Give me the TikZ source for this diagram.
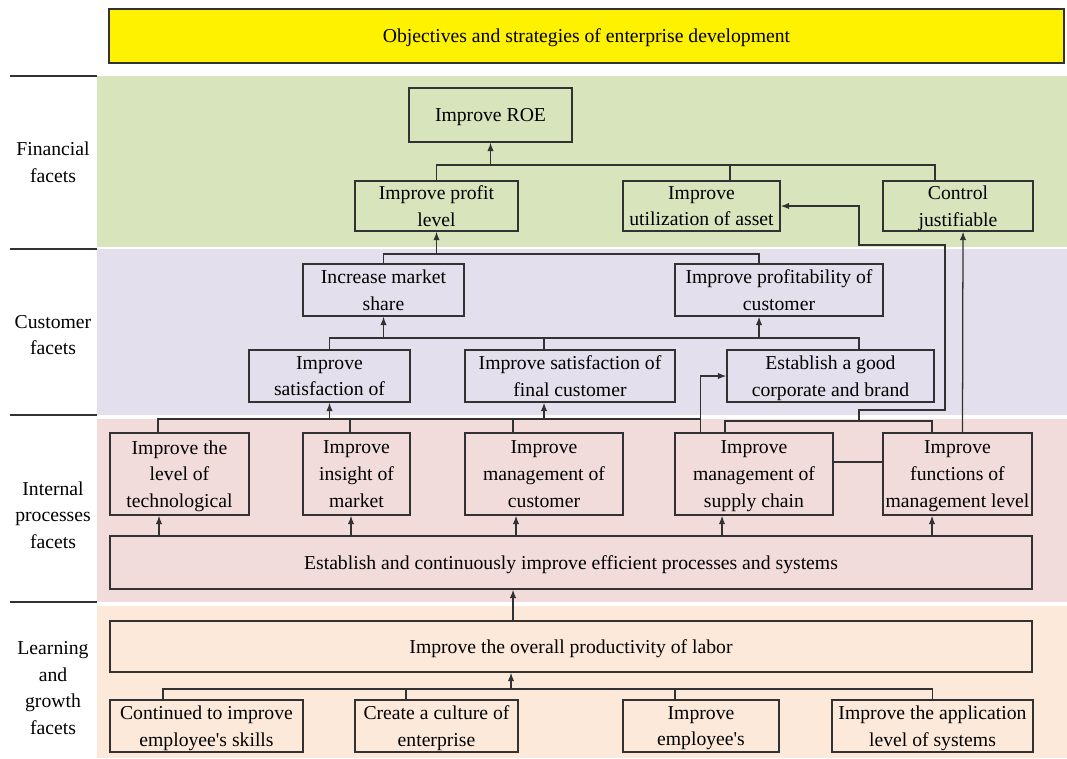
\documentclass[tikz,border=0pt]{standalone}
\usepackage{fontspec}
\setmainfont{Liberation Serif}
\usepackage{tikz}
\usetikzlibrary{arrows.meta}
\definecolor{finband}{RGB}{216,228,188}
\definecolor{custband}{RGB}{228,223,236}
\definecolor{intband}{RGB}{242,220,219}
\definecolor{learnband}{RGB}{253,233,217}
\definecolor{boxline}{RGB}{50,50,50}
\newlength\pxu
\setlength\pxu{0.025cm}

\begin{document}
\begin{tikzpicture}[x=0.025cm, y=-0.025cm,
    box/.style={draw=boxline, line width=0.9pt, inner sep=0pt, align=center,
      text depth=-3pt, font=\fontsize{14}{19}\selectfont},
    wh/.style n args={2}{minimum width=#1*\pxu, minimum height=#2*\pxu},
    facet/.style={align=center, font=\fontsize{14}{19}\selectfont},
    link/.style={draw=boxline, line width=0.9pt},
    arr/.style={-{Latex[length=6pt,width=4.5pt]}}]
  \useasboundingbox (0,0) rectangle (1067,758);

  % draws the bands
  \fill[finband] (97,76) rectangle (1067,247);
  \fill[custband] (97,249) rectangle (1067,415);
  \fill[intband] (97,419) rectangle (1067,602);
  \fill[learnband] (97,606) rectangle (1067,758);
  \foreach \y in {76,249,415,602}
    \draw[boxline, line width=0.8pt] (10,\y) -- (97,\y);

  % facet names
  \node[facet] (fin) at (53,162) {Financial\\facets};
  \node[facet] (cust) at (53,335) {Customer\\facets};
  \node[facet] (int) at (53,515) {Internal\\processes\\facets};
  \node[facet] (learn) at (53,688) {Learning\\and\\growth\\facets};

  % draws the boxes
  \node[box, fill=yellow, wh={955}{54}] (goal) at (586.5,36) {Objectives and strategies of enterprise development};
  \node[box, wh={163}{54}] (roe) at (490.5,115) {Improve ROE};
  \node[box, wh={163}{50}] (profit) at (436.5,206) {Improve profit\\level};
  \node[box, wh={157}{50}] (asset) at (701.5,206) {Improve\\utilization of asset};
  \node[box, wh={150}{50}] (control) at (958,206) {Control\\justifiable};
  \node[box, wh={161}{52}] (share) at (383.5,290) {Increase market\\share};
  \node[box, wh={208}{52}] (custprofit) at (779,290) {Improve profitability of\\customer};
  \node[box, wh={161}{52}] (satis) at (329.5,376) {Improve\\satisfaction of};
  \node[box, wh={210}{52}] (finalcust) at (570,376) {Improve satisfaction of\\final customer};
  \node[box, wh={207}{52}] (brand) at (830.5,376) {Establish a good\\corporate and brand};
  \node[box, wh={139}{82}] (tech) at (179.5,474) {Improve the\\level of\\technological};
  \node[box, wh={107}{82}] (insight) at (356.5,474) {Improve\\insight of\\market};
  \node[box, wh={158}{82}] (mgmtcust) at (544,474) {Improve\\management of\\customer};
  \node[box, wh={158}{82}] (supply) at (754,474) {Improve\\management of\\supply chain};
  \node[box, wh={149}{82}] (mgmtlevel) at (957.5,474) {Improve\\functions of\\management level};
  \node[box, wh={922}{53}] (processes) at (571,562.5) {Establish and continuously improve efficient processes and systems};
  \node[box, wh={922}{51}] (labor) at (571,646.5) {Improve the overall productivity of labor};
  \node[box, wh={193}{52}] (skills) at (206.5,726) {Continued to improve\\employee\textquotesingle s skills};
  \node[box, wh={163}{52}] (culture) at (436.5,726) {Create a culture of\\enterprise};
  \node[box, wh={156}{52}] (employee) at (701,726) {Improve\\employee\textquotesingle s};
  \node[box, wh={201}{52}] (systems) at (932.5,726) {Improve the application\\level of systems};

  \coordinate (finbus) at (0,165);
  \coordinate (custbus) at (0,254);
  \coordinate (satbus) at (0,338);
  \coordinate (intbus) at (0,419);
  \coordinate (mgmtbus) at (0,421);
  \coordinate (loopA) at (945,410);
  \coordinate (loopB) at (859,245);
  \coordinate (learnbus) at (0,689);

  % financial facets
  \draw[link] (profit.north) -- (profit.north |- finbus) -| ([xshift=-23*\pxu]control.north);
  \draw[link] ([xshift=28.5*\pxu]asset.north) -- ([xshift=28.5*\pxu]asset.north |- finbus);
  \draw[link, arr] (roe.south |- finbus) -- (roe.south);

  % customer facets
  \draw[link] (share.north) -- (share.north |- custbus) -| ([xshift=-20*\pxu]custprofit.north);
  \draw[link, arr] (profit.south |- custbus) -- (profit.south);
  \draw[link] (satis.north) -- (satis.north |- satbus) -| ([xshift=28.5*\pxu]brand.north);
  \draw[link] ([xshift=-26*\pxu]finalcust.north) -- ([xshift=-26*\pxu]finalcust.north |- satbus);
  \draw[link, arr] (share.south |- satbus) -- (share.south);
  \draw[link, arr] ([xshift=-20*\pxu]custprofit.south |- satbus) -- ([xshift=-20*\pxu]custprofit.south);

  % internal processes facets
  \draw[link] ([xshift=-21.5*\pxu]tech.north) |- ([xshift=26*\pxu]supply.north west |- intbus);
  \foreach \n/\s in {insight/-6.5, mgmtcust/-31}
    \draw[link] ([xshift=\s*\pxu]\n.north) -- ([xshift=\s*\pxu]\n.north |- intbus);
  \draw[link, arr] (satis.south |- intbus) -- (satis.south);
  \draw[link, arr] ([xshift=-26*\pxu]finalcust.south |- intbus) -- ([xshift=-26*\pxu]finalcust.south);
  \draw[link, arr] ([xshift=26*\pxu]supply.north west) |- (brand.west);
  \draw[link] ([xshift=-29*\pxu]supply.north) |- ([xshift=-25.5*\pxu]mgmtlevel.north |- mgmtbus) -- ([xshift=-25.5*\pxu]mgmtlevel.north);
  \draw[link, arr] (loopB |- mgmtbus) |- (loopA) |- (loopB) |- (asset.east);
  \draw[link] ([yshift=12*\pxu]supply.east) -- ([yshift=12*\pxu]mgmtlevel.west);
  \draw[link, arr] ([xshift=5*\pxu]mgmtlevel.north) -- ([xshift=5*\pxu]control.south);
  \foreach \n/\s in {tech/-20.5, insight/-5.5, mgmtcust/-28, supply/-32, mgmtlevel/-25.5}
    \draw[link, arr] ([xshift=\s*\pxu]\n.south |- processes.north) -- ([xshift=\s*\pxu]\n.south);

  % learning and growth facets
  \draw[link, arr] ([xshift=-58*\pxu]labor.north) -- ([xshift=-58*\pxu]processes.south);
  \draw[link] ([xshift=-43.5*\pxu]skills.north) |- (systems.north |- learnbus) -- (systems.north);
  \foreach \n/\s in {culture/-30.5, employee/-26}
    \draw[link] ([xshift=\s*\pxu]\n.north) -- ([xshift=\s*\pxu]\n.north |- learnbus);
  \draw[link, arr] ([xshift=-60*\pxu]labor.south |- learnbus) -- ([xshift=-60*\pxu]labor.south);
\end{tikzpicture}
\end{document}
